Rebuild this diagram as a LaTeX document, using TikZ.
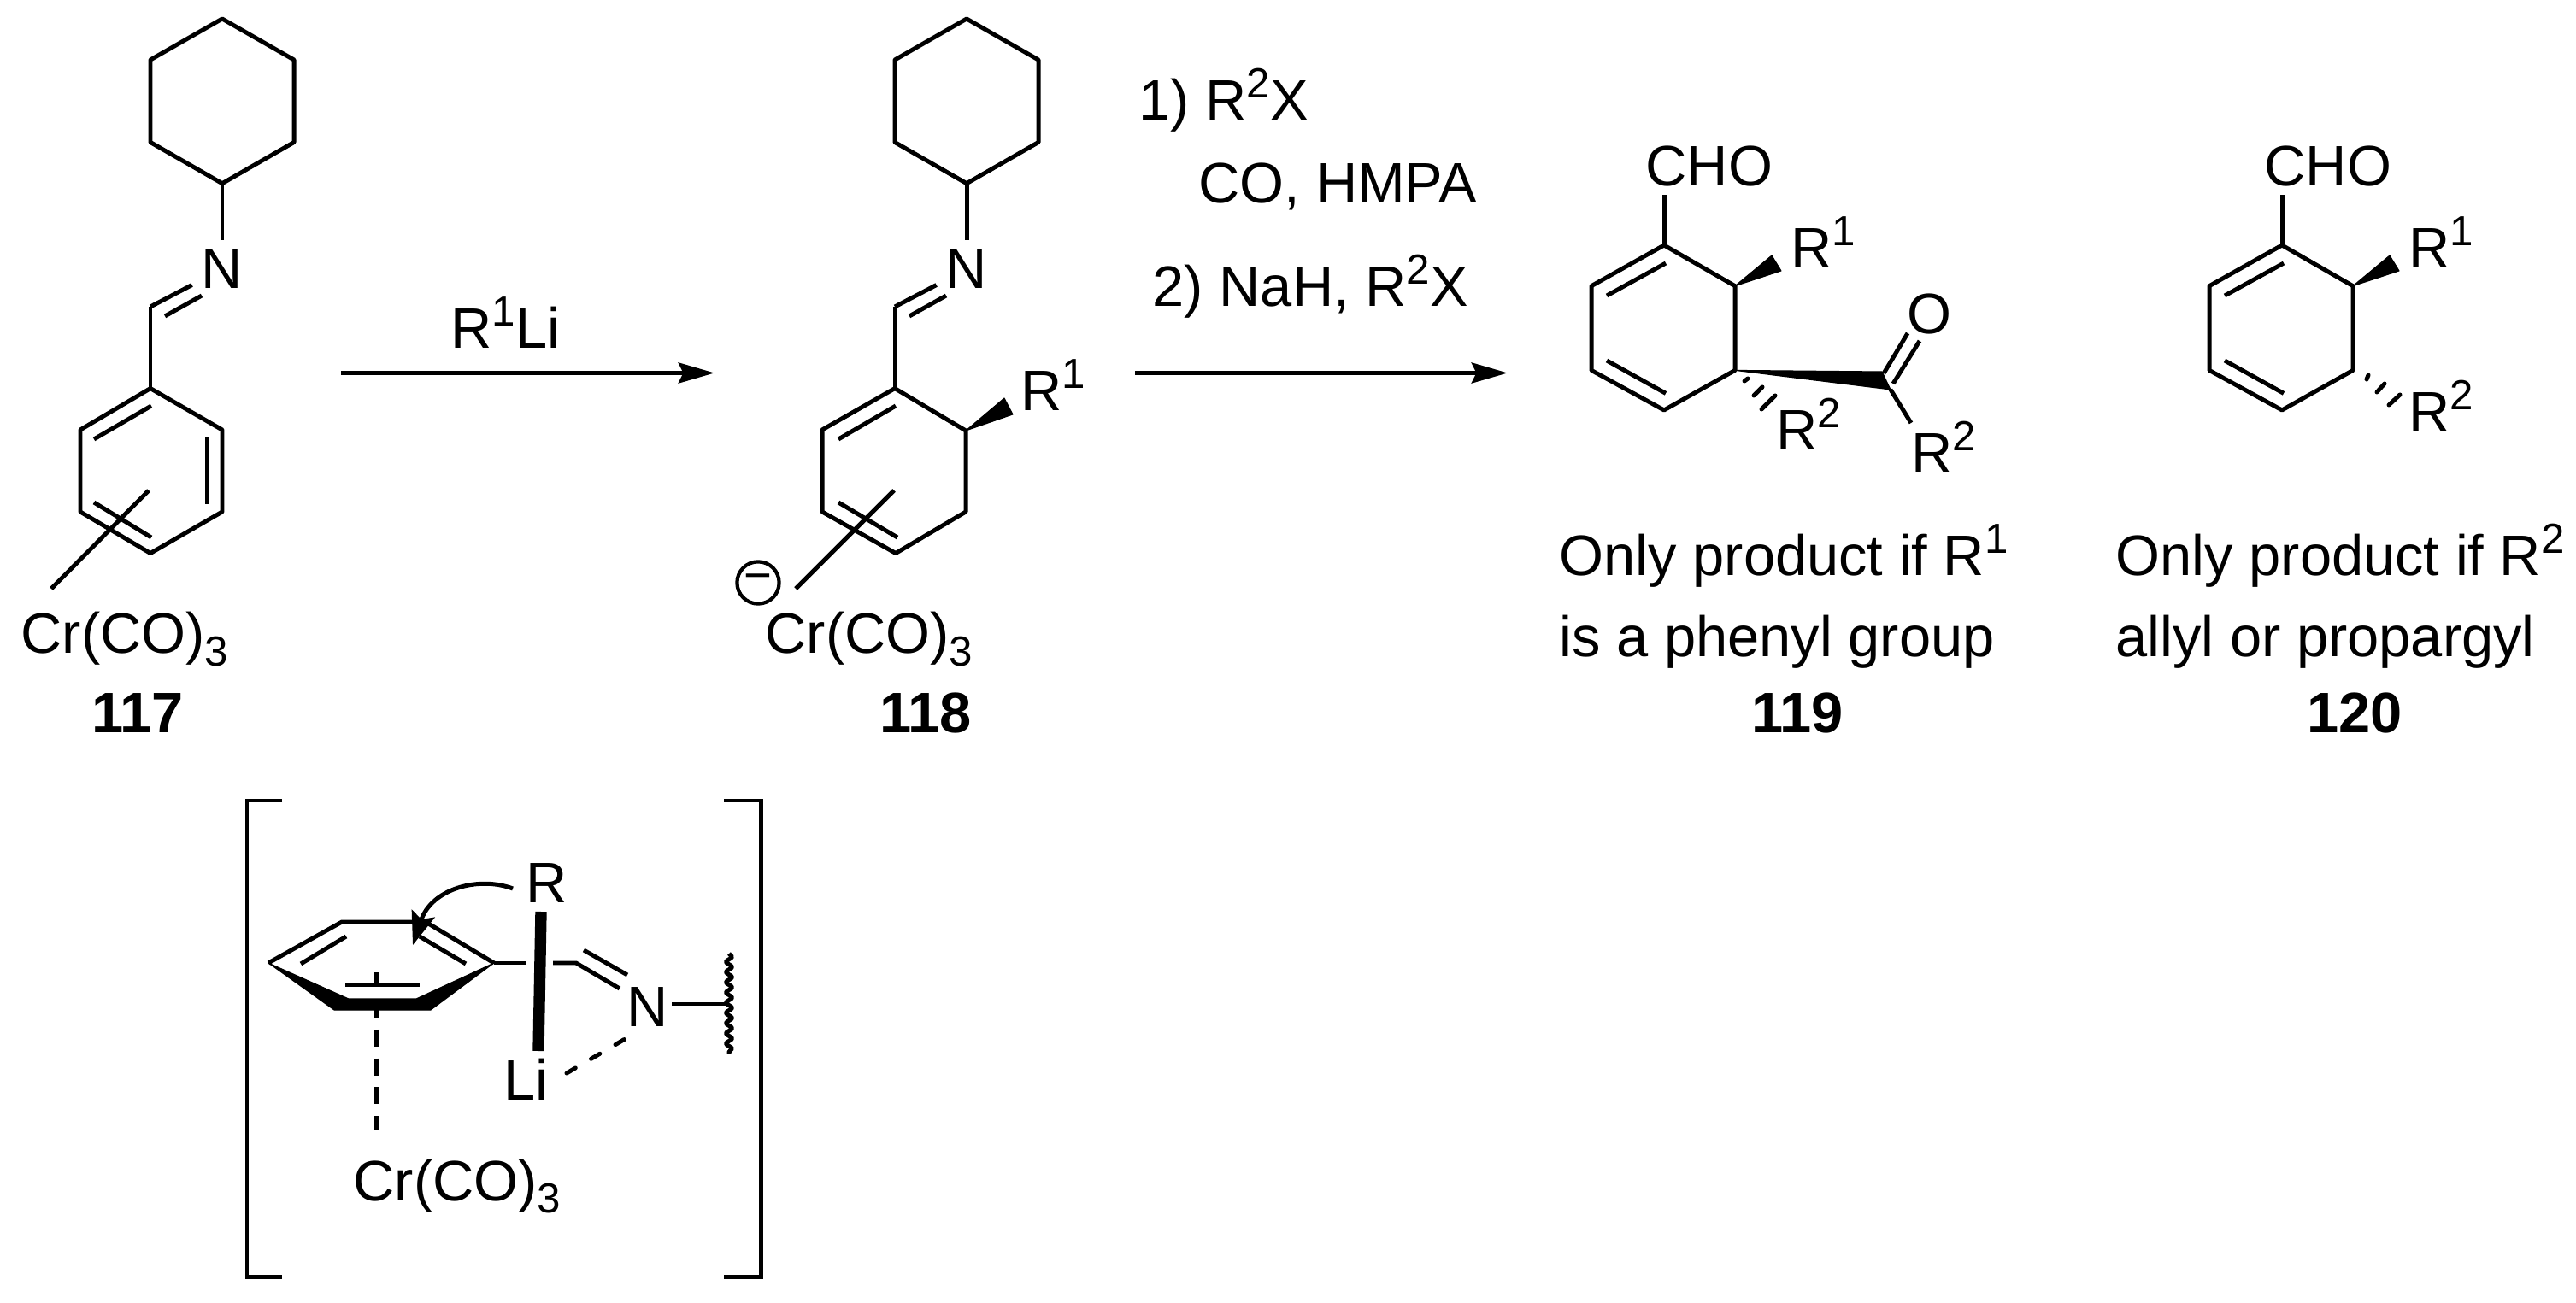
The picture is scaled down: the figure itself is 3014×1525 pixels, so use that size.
\documentclass[tikz,border=0pt]{standalone}
\usepackage{fontspec}
\setmainfont{Liberation Sans}
\usetikzlibrary{arrows.meta, decorations.pathmorphing}
\newcommand{\upnum}[1]{\raisebox{7.6pt}{\fontsize{14}{15}\selectfont #1}}
\newcommand{\downnum}[1]{\raisebox{-4pt}{\fontsize{14}{15}\selectfont #1}}

\begin{document}
\begin{tikzpicture}[x=0.01cm, y=-0.01cm]
\tikzstyle{bond}=[line width=1.42pt, line join=round]
\tikzstyle{hash}=[line width=1.42pt, line cap=round]
\tikzstyle{wedge}=[fill=black, draw=black, line width=0.3pt, line join=round]
\tikzstyle{react}=[line width=1.42pt, -{Stealth[length=12pt, width=6.8pt, inset=1.6pt]}]
\tikzstyle{chem}=[anchor=base west, inner sep=0pt, font=\fontsize{19}{21}\selectfont]
\tikzstyle{cmpd}=[anchor=base, inner sep=0pt, font=\fontsize{19}{21}\selectfont\bfseries]
\tikzstyle{atom}=[inner sep=3pt, font=\fontsize{19}{21}\selectfont]
\useasboundingbox (0,0) rectangle (3014,1525);

% imines 117 and 118
\foreach \m/\dx in {A/0,B/871} {
\foreach \n/\px/\py in {1/260/22, 2/344/70, 3/344/166.5, 4/260/214.7, 5/176/166.5, 6/176/70} {
\coordinate (h\m\n) at (\px+\dx,\py);
}
\node[atom] (n\m) at (260+\dx,315) {N};
\coordinate (c\m) at (176+\dx,359);
\coordinate (cd\m) at (193+\dx,370);
\coordinate (nd\m) at (236+\dx,346);
\coordinate (r\m) at (176+\dx,454.6);
\draw[bond] (h\m1) -- (h\m2) -- (h\m3) -- (h\m4) -- (h\m5) -- (h\m6) -- cycle;
\draw[bond] (h\m4) -- (n\m);
\draw[bond] (c\m) -- (n\m);
\draw[bond] (cd\m) -- (nd\m);
\draw[bond] (c\m) -- (r\m);
}

% ring of 117
\coordinate (a2) at (260,503);
\coordinate (a3) at (260,599);
\coordinate (a4) at (176,647.5);
\coordinate (a5) at (94,599);
\coordinate (a6) at (94,503);
\draw[bond] (rA) -- (a2) -- (a3) -- (a4) -- (a5) -- (a6) -- cycle;
\coordinate (a7) at (110,514);
\coordinate (a8) at (177,475);
\draw[bond] (a7) -- (a8);
\coordinate (a9) at (242,512);
\coordinate (a10) at (242,590);
\draw[bond] (a9) -- (a10);
\coordinate (a11) at (110,588);
\coordinate (a12) at (177,629);
\draw[bond] (a11) -- (a12);
\node[chem] (crA) at (24,765) {Cr(CO)\downnum{3}};
\coordinate (a13) at (174,574);
\coordinate (a14) at (60,689);
\draw[bond] (a13) -- (a14);
\node[cmpd] (lA) at (161,858) {117};

\coordinate (ar1) at (399,436.5);
\coordinate (ar2) at (836,436.5);
\draw[react] (ar1) -- (ar2);
\node[chem] (rli) at (527,408) {R\upnum{1}Li};

% ring of 118
\coordinate (b2) at (1130,504);
\coordinate (b3) at (1130,599);
\coordinate (b4) at (1048,647.5);
\coordinate (b5) at (962,599);
\coordinate (b6) at (962,503);
\draw[bond] (rB) -- (b2) -- (b3) -- (b4) -- (b5) -- (b6) -- cycle;
\coordinate (b7) at (981,514);
\coordinate (b8) at (1048,475);
\draw[bond] (b7) -- (b8);
\coordinate (b11) at (981,588);
\coordinate (b12) at (1050,629);
\draw[bond] (b11) -- (b12);
\coordinate (b13) at (1046,574);
\coordinate (b14) at (931,689);
\draw[bond] (b13) -- (b14);
\coordinate (b15) at (1175,466);
\coordinate (b16) at (1185,485);
\fill[wedge] (b2) -- (b15) -- (b16) -- cycle;
\node[chem] (rB1) at (1194,481) {R\upnum{1}};
\node[circle, draw, line width=1.2pt, minimum size=14pt, inner sep=0pt, font=\fontsize{16}{16}\selectfont] (chg) at (887,682) {−};
\node[chem] (crB) at (895,765) {Cr(CO)\downnum{3}};
\node[cmpd] (lB) at (1083,858) {118};

\node[chem] (t1) at (1332,141) {1) R\upnum{2}X};
\node[chem] (t2) at (1402,238) {CO, HMPA};
\node[chem] (t3) at (1348,359) {2) NaH, R\upnum{2}X};
\coordinate (ar3) at (1328,436.5);
\coordinate (ar4) at (1764,436.5);
\draw[react] (ar3) -- (ar4);

% dienes 119 and 120
\foreach \m/\dx in {C/0,D/723} {
\foreach \n/\px/\py in {1/1947/287, 2/2030/334.7, 3/2030/433.4, 4/1947/480, 5/1862/433.4, 6/1862/334.7} {
\coordinate (d\m\n) at (\px+\dx,\py);
}
\coordinate (e\m1) at (1880+\dx,346);
\coordinate (e\m2) at (1949+\dx,308);
\coordinate (e\m3) at (1880+\dx,422);
\coordinate (e\m4) at (1949+\dx,460.4);
\coordinate (e\m5) at (2073+\dx,299);
\coordinate (e\m6) at (2084+\dx,317);
\coordinate (e\m7) at (1947+\dx,228);
\draw[bond] (d\m1) -- (d\m2) -- (d\m3) -- (d\m4) -- (d\m5) -- (d\m6) -- cycle;
\draw[bond] (e\m1) -- (e\m2);
\draw[bond] (e\m3) -- (e\m4);
\draw[bond] (d\m1) -- (e\m7);
\fill[wedge] (d\m2) -- (e\m5) -- (e\m6) -- cycle;
\node[chem] (q\m1) at (2095+\dx,314) {R\upnum{1}};
}
\node[chem] (choC) at (1925,218) {CHO};
\node[chem] (choD) at (2649,218) {CHO};

% side chain of 119
\coordinate (f1) at (2202,435);
\coordinate (f2) at (2212,456);
\fill[wedge] (dC3) -- (f1) -- (f2) -- cycle;
\node[atom, inner sep=0pt] (oC) at (2257,368) {O};
\coordinate (f3) at (2204,437);
\coordinate (f4) at (2232,390);
\coordinate (f5) at (2215,449);
\coordinate (f6) at (2246,399);
\coordinate (f7) at (2236,495);
\draw[bond] (f3) -- (f4);
\draw[bond] (f5) -- (f6);
\draw[bond] (f2) -- (f7);
\node[chem] (rC1) at (2236,554) {R\upnum{2}};
\node[chem] (rC2) at (2078,527) {R\upnum{2}};
\foreach \n/\xa/\ya/\xb/\yb in {1/2041/446/2045/443, 2/2052/463/2062/453, 3/2061/479/2077/463} {
\coordinate (g\n) at (\xa,\ya);
\coordinate (k\n) at (\xb,\yb);
\draw[hash] (g\n) -- (k\n);
}

% hashed bond of 120
\foreach \n/\xa/\ya/\xb/\yb in {1/2769/444/2771/439, 2/2781/459/2790/449, 3/2795/474/2808/462} {
\coordinate (m\n) at (\xa,\ya);
\coordinate (p\n) at (\xb,\yb);
\draw[hash] (m\n) -- (p\n);
}
\node[chem] (rD2) at (2818,506) {R\upnum{2}};

% captions
\node[chem] (o1) at (1824,674) {Only product if R\upnum{1}};
\node[chem] (o2) at (1824,769) {is a phenyl group};
\node[cmpd] (lC) at (2103,858) {119};
\node[chem] (o3) at (2475,674) {Only product if R\upnum{2}};
\node[chem] (o4) at (2475,769) {allyl or propargyl};
\node[cmpd] (lD) at (2755,858) {120};

% transition state
\coordinate (s1) at (330,937);
\coordinate (s2) at (289,937);
\coordinate (s3) at (289,1494);
\coordinate (s4) at (330,1494);
\draw[bond, line join=miter] (s1) -- (s2) -- (s3) -- (s4);
\coordinate (s5) at (847,937);
\coordinate (s6) at (890,937);
\coordinate (s7) at (890,1494);
\coordinate (s8) at (847,1494);
\draw[bond, line join=miter] (s5) -- (s6) -- (s7) -- (s8);

\coordinate (u1) at (314,1127);
\coordinate (u2) at (400,1079);
\coordinate (u3) at (498,1079);
\coordinate (u4) at (578,1127);
\coordinate (u5) at (504,1182);
\coordinate (u6) at (391,1182);
\coordinate (u7) at (487,1169);
\coordinate (u8) at (408,1169);
\draw[bond] (u1) -- (u2) -- (u3) -- (u4);
\fill[wedge] (u1) -- (u6) -- (u5) -- (u4) -- (u7) -- (u8) -- cycle;
\coordinate (v1) at (352,1128);
\coordinate (v2) at (405,1096);
\coordinate (v3) at (491,1096);
\coordinate (v4) at (545,1128);
\coordinate (v5) at (404,1153);
\coordinate (v6) at (491,1153);
\coordinate (v7) at (440,1138);
\coordinate (v8) at (440,1153);
\coordinate (v9) at (440,1171);
\coordinate (v10) at (440,1323);
\draw[bond] (v1) -- (v2);
\draw[bond] (v3) -- (v4);
\draw[bond] (v5) -- (v6);
\draw[bond] (v7) -- (v8);
\draw[hash, line cap=butt, dash pattern=on 5.7pt off 3.9pt] (v9) -- (v10);
\node[chem] (crE) at (413,1405) {Cr(CO)\downnum{3}};

\node[chem] (rE) at (615,1057) {R};
\node[chem] (li) at (589,1287) {Li};
\node[atom, inner sep=0pt] (nE) at (758,1179) {N};
\coordinate (w1) at (633,1067);
\coordinate (w2) at (630,1230);
\draw[line width=3.8pt] (w1) -- (w2);
\coordinate (w3) at (616,1127);
\coordinate (w4) at (647,1127);
\coordinate (w5) at (674,1127);
\coordinate (w6) at (725,1157);
\coordinate (w7) at (683,1112);
\coordinate (w8) at (734,1141);
\draw[bond] (u4) -- (w3);
\draw[bond] (w4) -- (w5) -- (w6);
\draw[bond] (w7) -- (w8);
\coordinate (w9) at (786,1175);
\coordinate (w10) at (849,1175);
\draw[bond] (w9) -- (w10);
\coordinate (w11) at (853,1116);
\coordinate (w12) at (853,1233);
\draw[bond, decorate, decoration={snake, segment length=3.4pt, amplitude=1pt}] (w11) -- (w12);
\coordinate (w13) at (663,1256);
\coordinate (w14) at (733,1215);
\draw[hash, dash pattern=on 3.4pt off 6pt] (w13) -- (w14);
\coordinate (w15) at (600,1040);
\coordinate (w16) at (483,1106);
\draw[line width=1.42pt, -{Stealth[length=11pt, width=8pt, inset=2pt]}] (w15) .. controls (560,1025) and (505,1040) .. (w16);

\end{tikzpicture}
\end{document}
